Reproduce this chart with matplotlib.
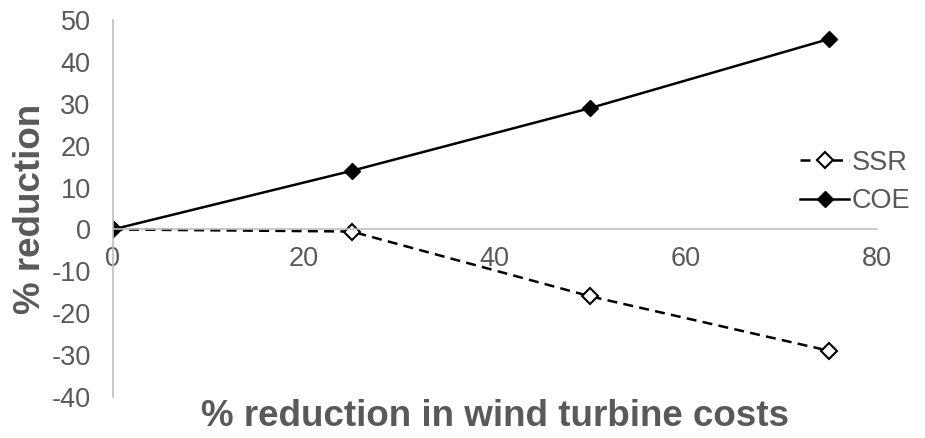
import matplotlib.pyplot as plt
import numpy as np

plt.rcParams['font.family'] = ['Liberation Sans', 'DejaVu Sans']
plt.rcParams['axes.unicode_minus'] = False

# % reduction in wind turbine costs
x_cost = [0, 25, 50, 75]
ssr = [0, -0.5, -16, -29]
coe = [0, 14, 29, 45.5]

x_ticks = [0, 20, 40, 60, 80]
y_ticks = [-40, -30, -20, -10, 0, 10, 20, 30, 40, 50]


def main():
    fig = plt.figure(figsize=(9.25, 4.38), dpi=100)
    ax = fig.add_axes([0.122, 0.094, 0.826, 0.860])

    grey = '#595959'
    axis_grey = '#BFBFBF'

    ax.plot(x_cost, ssr, color='black', lw=1.8, linestyle=(0, (4, 2.5)),
            marker='D', ms=8, mfc='white', mec='black', mew=1.5, label='SSR')
    ax.plot(x_cost, coe, color='black', lw=1.8,
            marker='D', ms=8, mfc='black', mec='black', label='COE')

    ax.set_xlim(0, 80)
    ax.set_ylim(-40, 50)
    ax.set_xticks(x_ticks)
    ax.set_yticks(y_ticks)

    for s in ['top', 'right']:
        ax.spines[s].set_visible(False)
    ax.spines['bottom'].set_position(('data', 0))
    ax.spines['bottom'].set_color(axis_grey)
    ax.spines['left'].set_color(axis_grey)
    ax.spines['bottom'].set_linewidth(1.2)
    ax.spines['left'].set_linewidth(1.2)

    ax.tick_params(axis='x', length=0, pad=12, labelsize=19.5, labelcolor=grey)
    ax.tick_params(axis='y', length=0, pad=16, labelsize=19.5, labelcolor=grey)

    ax.set_xlabel('% reduction in wind turbine costs', fontsize=26.5,
                  fontweight='bold', color=grey)
    ax.xaxis.set_label_coords(0.5, -0.005)
    ax.set_ylabel('% reduction', fontsize=26.5, fontweight='bold', color=grey)
    ax.yaxis.set_label_coords(-0.085, 0.5)

    leg = ax.legend(loc='center right', bbox_to_anchor=(0.999, 1 - 182 / 438),
                    bbox_transform=fig.transFigure, frameon=False,
                    fontsize=19.5, handlelength=1.8, handletextpad=0.1,
                    labelspacing=0.45, borderpad=0)
    for t in leg.get_texts():
        t.set_color(grey)

    plt.savefig('out.png', dpi=100)


if __name__ == '__main__':
    main()
